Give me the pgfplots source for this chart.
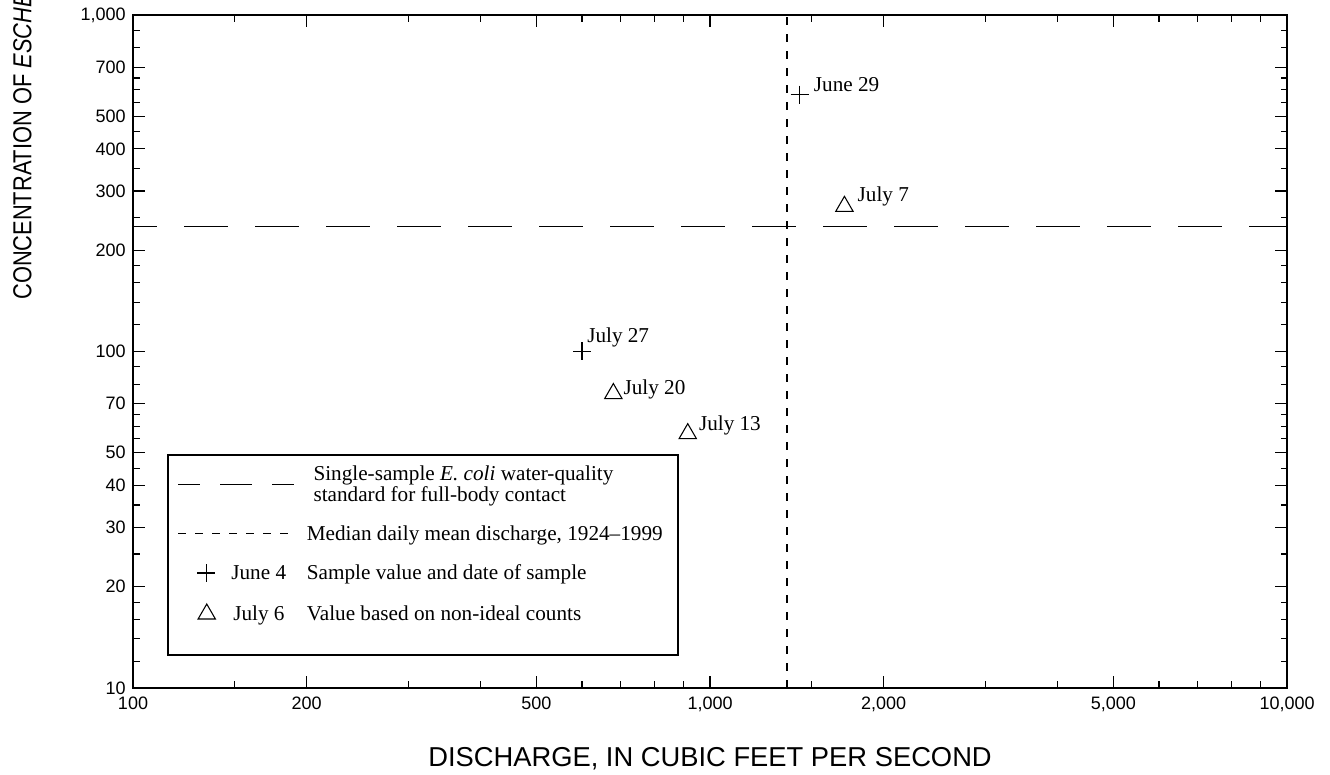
\documentclass[border=0pt]{standalone}
\usepackage{fontspec}
\setmainfont{Liberation Serif}
\newfontfamily\sansf{Liberation Sans}
\newfontfamily\sansnarrow[FakeStretch=0.84]{Liberation Sans}
\usepackage{pgfplots}
\pgfplotsset{compat=1.18}

\newcommand\serifsize{\fontsize{15.9pt}{14.3pt}\selectfont}
\newcommand\ticksize{\sansf\fontsize{13.5pt}{16pt}\selectfont}
\newcommand\titlesize{\sansf\fontsize{20.5pt}{24pt}\selectfont}
\newcommand\ytitlesize{\sansnarrow\fontsize{19.5pt}{23pt}\selectfont}

\begin{document}
\begin{tikzpicture}
\begin{axis}[
  scale only axis, width=865.5pt, height=504.75pt,
  at={(99.75pt,64.5pt)}, anchor=south west,
  xmode=log, ymode=log,
  xmin=100, xmax=10000, ymin=10, ymax=1000,
  axis line style={line width=1.1pt},
  tick align=inside,
  major tick length=9pt, minor tick length=4.9pt,
  tick style={black, line width=0.9pt},
  xtick={100,200,500,1000,2000,5000,10000},
  xticklabels={100,200,500,{1,000},{2,000},{5,000},{10,000}},
  minor xtick={150,300,400,600,700,800,900,1500,3000,4000,6000,7000,8000,9000},
  ytick={10,20,30,40,50,70,100,200,300,400,500,700,1000},
  yticklabels={10,20,30,40,50,70,100,200,300,400,500,700,{1,000}},
  minor ytick={12,14,16,18,25,35,45,55,60,65,80,90,120,140,160,180,250,350,450,550,600,650,800,900},
  xticklabel style={font=\ticksize, inner sep=0pt, anchor=north, yshift=-6.75pt},
  yticklabel style={font=\ticksize, inner sep=0pt, anchor=east, xshift=-5.25pt},
  xlabel={DISCHARGE, IN CUBIC FEET PER SECOND},
  xlabel style={font=\titlesize, at={(axis description cs:0.5,-0.1055)}, anchor=center, inner sep=0pt},
  ylabel={CONCENTRATION OF \textit{ESCHERICHIA COLI}, IN COLONIES PER 100 MILLILITERS},
  ylabel style={font=\ytitlesize, at={(axis description cs:-0.0945,0.5765)}, rotate=0, anchor=west, inner sep=0pt},
  legend cell align=left,
  legend style={draw=none, fill=none, at={(0.03813,0.3306)}, anchor=north west,
    inner sep=0pt, column sep=9pt, row sep=16.5pt,
    nodes={font=\serifsize, inner sep=0pt, align=left}},
]
% legend keys
\addlegendimage{legend image code/.code={\draw[line width=1.2pt, dash pattern=on 24pt off 15pt, dash phase=7.5pt] (0pt,0pt) -- (87pt,0pt);}}
\addlegendentry{\hspace*{5pt}Single-sample \textit{E. coli} water-quality\\\hspace*{5pt}standard for full-body contact}
\addlegendimage{legend image code/.code={\draw[line width=1.2pt, dash pattern=on 6pt off 6.75pt] (0pt,0pt) -- (87pt,0pt);}}
\addlegendentry{Median daily mean discharge, 1924--1999}
\addlegendimage{legend image code/.code={\draw[line width=0.8pt] plot[mark=+, mark size=6.75pt, only marks] coordinates {(21pt,0pt)};
  \node[anchor=west, inner sep=0pt, font=\serifsize] at (39.75pt,0pt) {June 4};}}
\addlegendentry{Sample value and date of sample}
\addlegendimage{legend image code/.code={\draw[line width=0.8pt] plot[mark=triangle, mark size=7.5pt, only marks] coordinates {(21.5pt,0pt)};
  \node[anchor=west, inner sep=0pt, font=\serifsize] at (41.25pt,0pt) {July 6};}}
\addlegendentry{Value based on non-ideal counts}

% water-quality standard
\addplot[forget plot, line width=1.2pt, dash pattern=on 33pt off 20.25pt, dash phase=15pt]
  coordinates {(100,235) (10000,235)};
% median daily mean discharge
\addplot[forget plot, line width=1.2pt, dash pattern=on 6pt off 6.75pt]
  coordinates {(1360,10) (1360,1000)};
% samples
\addplot[forget plot, only marks, mark=+, mark size=6.75pt, line width=0.8pt]
  coordinates {(1430,580) (600,100)};
\addplot[forget plot, only marks, mark=triangle, mark size=7.5pt, line width=0.8pt]
  coordinates {(1710,270) (680,75) (915,57)};

\begin{scope}[every node/.style={font=\serifsize, inner sep=0pt, anchor=base west}]
\node[xshift=10.5pt, yshift=2.25pt] at (axis cs:1430,580) {June 29};
\node[xshift=9.75pt, yshift=3.75pt] at (axis cs:1710,270) {July 7};
\node[xshift=3.75pt, yshift=6.75pt] at (axis cs:600,100) {July 27};
\node[xshift=7.5pt, yshift=-0.5pt] at (axis cs:680,75) {July 20};
\node[xshift=8.25pt, yshift=2.7pt] at (axis cs:915,57) {July 13};
\end{scope}

% legend frame
\draw[line width=1.1pt] (rel axis cs:0.03033,0.3462) rectangle (rel axis cs:0.4723,0.04903);
\end{axis}
\pgfresetboundingbox
\useasboundingbox (0,0) rectangle (997.5pt,580.5pt);
\end{tikzpicture}
\end{document}
